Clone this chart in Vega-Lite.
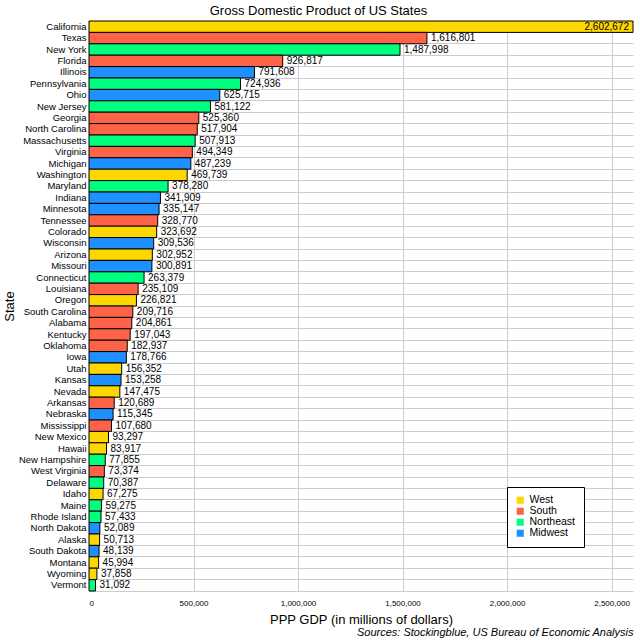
{
  "$schema": "https://vega.github.io/schema/vega-lite/v6.json",
  "padding": {"left": 3, "right": 8, "top": 4, "bottom": 2},
  "config": {"font": "Liberation Sans", "view": {"stroke": null}},
  "title": {"text": "Gross Domestic Product of US States", "fontSize": 13, "fontWeight": "normal", "offset": 3, "anchor": "middle", "frame": "bounds"},
  "data": {
    "values": [
      {"State": "California", "GDP": 2602672, "Region": "West"},
      {"State": "Texas", "GDP": 1616801, "Region": "South"},
      {"State": "New York", "GDP": 1487998, "Region": "Northeast"},
      {"State": "Florida", "GDP": 926817, "Region": "South"},
      {"State": "Illinois", "GDP": 791608, "Region": "Midwest"},
      {"State": "Pennsylvania", "GDP": 724936, "Region": "Northeast"},
      {"State": "Ohio", "GDP": 625715, "Region": "Midwest"},
      {"State": "New Jersey", "GDP": 581122, "Region": "Northeast"},
      {"State": "Georgia", "GDP": 525360, "Region": "South"},
      {"State": "North Carolina", "GDP": 517904, "Region": "South"},
      {"State": "Massachusetts", "GDP": 507913, "Region": "Northeast"},
      {"State": "Virginia", "GDP": 494349, "Region": "South"},
      {"State": "Michigan", "GDP": 487239, "Region": "Midwest"},
      {"State": "Washington", "GDP": 469739, "Region": "West"},
      {"State": "Maryland", "GDP": 378280, "Region": "Northeast"},
      {"State": "Indiana", "GDP": 341909, "Region": "Midwest"},
      {"State": "Minnesota", "GDP": 335147, "Region": "Midwest"},
      {"State": "Tennessee", "GDP": 328770, "Region": "South"},
      {"State": "Colorado", "GDP": 323692, "Region": "West"},
      {"State": "Wisconsin", "GDP": 309536, "Region": "Midwest"},
      {"State": "Arizona", "GDP": 302952, "Region": "West"},
      {"State": "Missouri", "GDP": 300891, "Region": "Midwest"},
      {"State": "Connecticut", "GDP": 263379, "Region": "Northeast"},
      {"State": "Louisiana", "GDP": 235109, "Region": "South"},
      {"State": "Oregon", "GDP": 226821, "Region": "West"},
      {"State": "South Carolina", "GDP": 209716, "Region": "South"},
      {"State": "Alabama", "GDP": 204861, "Region": "South"},
      {"State": "Kentucky", "GDP": 197043, "Region": "South"},
      {"State": "Oklahoma", "GDP": 182937, "Region": "South"},
      {"State": "Iowa", "GDP": 178766, "Region": "Midwest"},
      {"State": "Utah", "GDP": 156352, "Region": "West"},
      {"State": "Kansas", "GDP": 153258, "Region": "Midwest"},
      {"State": "Nevada", "GDP": 147475, "Region": "West"},
      {"State": "Arkansas", "GDP": 120689, "Region": "South"},
      {"State": "Nebraska", "GDP": 115345, "Region": "Midwest"},
      {"State": "Mississippi", "GDP": 107680, "Region": "South"},
      {"State": "New Mexico", "GDP": 93297, "Region": "West"},
      {"State": "Hawaii", "GDP": 83917, "Region": "West"},
      {"State": "New Hampshire", "GDP": 77855, "Region": "Northeast"},
      {"State": "West Virginia", "GDP": 73374, "Region": "South"},
      {"State": "Delaware", "GDP": 70387, "Region": "Northeast"},
      {"State": "Idaho", "GDP": 67275, "Region": "West"},
      {"State": "Maine", "GDP": 59275, "Region": "Northeast"},
      {"State": "Rhode Island", "GDP": 57433, "Region": "Northeast"},
      {"State": "North Dakota", "GDP": 52089, "Region": "Midwest"},
      {"State": "Alaska", "GDP": 50713, "Region": "West"},
      {"State": "South Dakota", "GDP": 48139, "Region": "Midwest"},
      {"State": "Montana", "GDP": 45994, "Region": "West"},
      {"State": "Wyoming", "GDP": 37858, "Region": "West"},
      {"State": "Vermont", "GDP": 31092, "Region": "Northeast"}
    ]
  },
  "vconcat": [
    {
      "width": 544,
      "height": 570,
      "title": {
        "text": "Sources: Stockingblue, US Bureau of Economic Analysis",
        "orient": "bottom",
        "anchor": "end",
        "fontSize": 11,
        "fontStyle": "italic",
        "fontWeight": "normal",
        "offset": 1
      },
      "encoding": {
        "y": {
          "field": "State",
          "type": "nominal",
          "sort": ["California", "Texas", "New York", "Florida", "Illinois", "Pennsylvania", "Ohio", "New Jersey", "Georgia", "North Carolina", "Massachusetts", "Virginia", "Michigan", "Washington", "Maryland", "Indiana", "Minnesota", "Tennessee", "Colorado", "Wisconsin", "Arizona", "Missouri", "Connecticut", "Louisiana", "Oregon", "South Carolina", "Alabama", "Kentucky", "Oklahoma", "Iowa", "Utah", "Kansas", "Nevada", "Arkansas", "Nebraska", "Mississippi", "New Mexico", "Hawaii", "New Hampshire", "West Virginia", "Delaware", "Idaho", "Maine", "Rhode Island", "North Dakota", "Alaska", "South Dakota", "Montana", "Wyoming", "Vermont"],
          "scale": {"paddingInner": 0, "paddingOuter": 0},
          "axis": {
            "title": "State",
            "titleFontSize": 13,
            "titleFontWeight": "normal",
            "titlePadding": 2,
            "labelFontSize": 9.5,
            "labelColor": "black",
            "labelPadding": 3,
            "ticks": false,
            "domain": false,
            "grid": true,
            "bandPosition": 0,
            "gridColor": "#cccccc",
            "gridOpacity": 1
          }
        },
        "x": {
          "field": "GDP",
          "type": "quantitative",
          "scale": {"domain": [0, 2602672], "nice": false},
          "axis": {
            "title": "PPP GDP (in millions of dollars)",
            "titleFontSize": 13,
            "titleFontWeight": "normal",
            "titlePadding": 6,
            "values": [0, 500000, 1000000, 1500000, 2000000, 2500000],
            "format": ",d",
            "labelFontSize": 8,
            "labelColor": "black",
            "labelPadding": 8,
            "ticks": false,
            "domain": true,
            "domainColor": "#cccccc",
            "gridColor": "#cccccc",
            "gridOpacity": 1
          }
        }
      },
      "layer": [
        {
          "mark": {"type": "bar", "stroke": "black", "strokeWidth": 1},
          "encoding": {
            "color": {
              "field": "Region",
              "type": "nominal",
              "scale": {
                "domain": ["West", "South", "Northeast", "Midwest"],
                "range": ["#FFD700", "#FF6347", "#00FF7F", "#1E90FF"]
              },
              "legend": {
                "title": null,
                "orient": "none",
                "legendX": 418,
                "legendY": 466,
                "strokeColor": "black",
                "fillColor": "white",
                "padding": 8,
                "symbolType": "square",
                "symbolSize": 50,
                "symbolStrokeWidth": 0,
                "labelFontSize": 10.5,
                "labelColor": "black",
                "rowPadding": 0
              }
            }
          }
        },
        {
          "transform": [{"filter": "datum.GDP < 2500000"}],
          "mark": {"type": "text", "align": "left", "baseline": "middle", "dx": 4, "fontSize": 10, "color": "black"},
          "encoding": {"text": {"field": "GDP", "type": "quantitative", "format": ",d"}}
        },
        {
          "transform": [{"filter": "datum.GDP >= 2500000"}],
          "mark": {"type": "text", "align": "right", "baseline": "middle", "dx": -4, "fontSize": 10, "color": "black"},
          "encoding": {"text": {"field": "GDP", "type": "quantitative", "format": ",d"}}
        }
      ]
    }
  ]
}
